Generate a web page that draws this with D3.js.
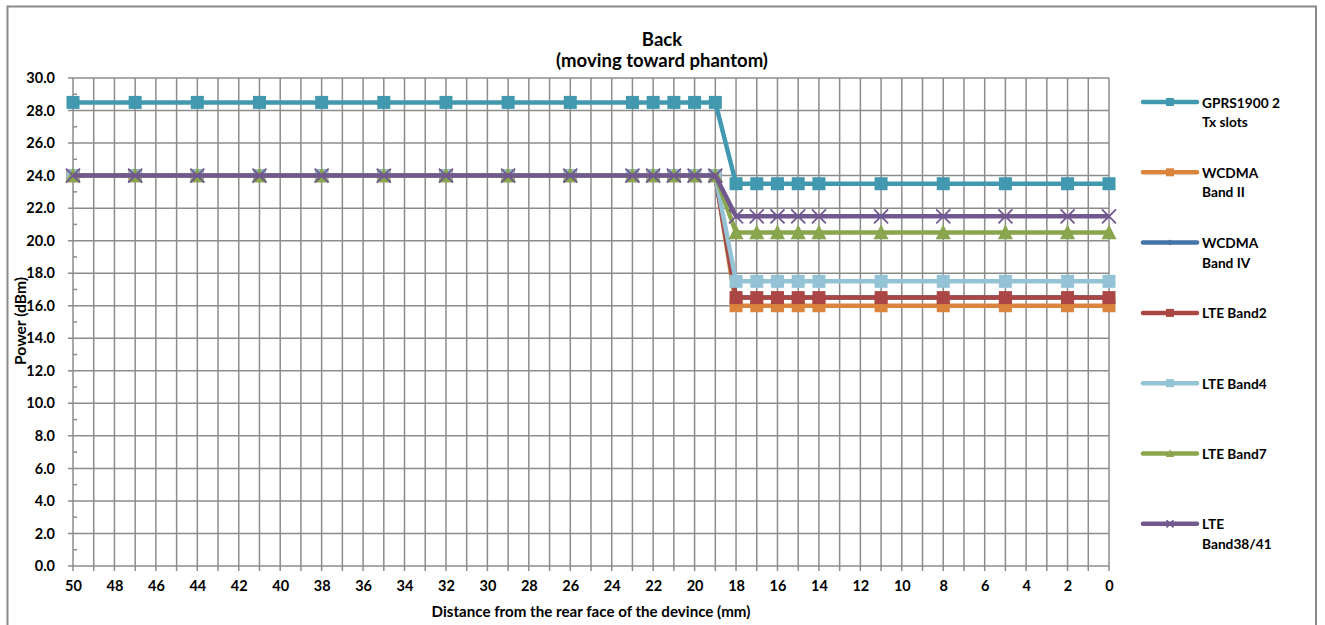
<!DOCTYPE html>
<html>
<head>
<meta charset="utf-8">
<script src="https://cdn.jsdelivr.net/npm/d3@7"></script>
<style>
  html, body { margin: 0; padding: 0; background: #fff; }
  svg text { font-family: Lato, "Open Sans", sans-serif; font-weight: bold; fill: #000; }
</style>
</head>
<body>
<svg id="chart" width="1325" height="625"></svg>
<script>
// ---- data ----
const distances = [50, 47, 44, 41, 38, 35, 32, 29, 26, 23, 22, 21, 20, 19, 18, 17, 16, 15, 14, 11, 8, 5, 2, 0];
const seriesNames = ["GPRS1900 2 Tx slots", "WCDMA Band II", "WCDMA Band IV", "LTE Band2", "LTE Band4", "LTE Band7", "LTE Band38/41"];
const legendLines = [["GPRS1900 2", "Tx slots"], ["WCDMA", "Band II"], ["WCDMA", "Band IV"], ["LTE Band2"], ["LTE Band4"], ["LTE Band7"], ["LTE", "Band38/41"]];
const gprs1900   = [28.5,28.5,28.5,28.5,28.5,28.5,28.5,28.5,28.5,28.5,28.5,28.5,28.5,28.5,23.5,23.5,23.5,23.5,23.5,23.5,23.5,23.5,23.5,23.5];
const wcdmaBand2 = [24,24,24,24,24,24,24,24,24,24,24,24,24,24,16,16,16,16,16,16,16,16,16,16];
const wcdmaBand4 = [24,24,24,24,24,24,24,24,24,24,24,24,24,24,16.5,16.5,16.5,16.5,16.5,16.5,16.5,16.5,16.5,16.5];
const lteBand2   = [24,24,24,24,24,24,24,24,24,24,24,24,24,24,16.5,16.5,16.5,16.5,16.5,16.5,16.5,16.5,16.5,16.5];
const lteBand4   = [24,24,24,24,24,24,24,24,24,24,24,24,24,24,17.5,17.5,17.5,17.5,17.5,17.5,17.5,17.5,17.5,17.5];
const lteBand7   = [24,24,24,24,24,24,24,24,24,24,24,24,24,24,20.5,20.5,20.5,20.5,20.5,20.5,20.5,20.5,20.5,20.5];
const lteBand3841= [24,24,24,24,24,24,24,24,24,24,24,24,24,24,21.5,21.5,21.5,21.5,21.5,21.5,21.5,21.5,21.5,21.5];
const xTickLabels = [50,48,46,44,42,40,38,36,34,32,30,28,26,24,22,20,18,16,14,12,10,8,6,4,2,0];
const yTickLabels = [0,2,4,6,8,10,12,14,16,18,20,22,24,26,28,30];
const titleLines = ["Back", "(moving toward phantom)"];
const xTitle = "Distance from the rear face of the devince (mm)";
const yTitle = "Power (dBm)";

// ---- styles ----
const colors = ["#4198AF", "#DB843D", "#4572A7", "#AA4643", "#93C3D5", "#89A54E", "#71588F"];
const markers = ["square", "square", "diamond", "square", "square", "triangle", "x"];
const allValues = [gprs1900, wcdmaBand2, wcdmaBand4, lteBand2, lteBand4, lteBand7, lteBand3841];

const svg = d3.select("#chart");
const gridColor = "#8c8c8c";

// fit a text element's font size so that its rendered width equals target
function fitSize(textSel, target, base) {
  textSel.attr("font-size", base);
  const w = textSel.node().getComputedTextLength();
  const s = base * target / w;
  textSel.attr("font-size", s);
  return s;
}

// outer border
svg.append("rect").attr("x", 7.5).attr("y", 6.5).attr("width", 1308.5).attr("height", 700)
  .attr("fill", "none").attr("stroke", "#8a8a8a").attr("stroke-width", 2);

const x = d3.scaleLinear().domain([50, 0]).range([73, 1109]);
const y = d3.scaleLinear().domain([0, 30]).range([566, 78]);

// vertical gridlines every unit (with outward tick)
const g = svg.append("g");
g.selectAll("line.vg").data(d3.range(0, 51)).join("line")
  .attr("x1", d => x(d)).attr("x2", d => x(d))
  .attr("y1", y(30)).attr("y2", y(0) + 5)
  .attr("stroke", gridColor).attr("stroke-width", 1.5);
// horizontal gridlines
g.selectAll("line.hg").data(yTickLabels).join("line")
  .attr("x1", x(50) - 5).attr("x2", x(0))
  .attr("y1", d => y(d)).attr("y2", d => y(d))
  .attr("stroke", gridColor).attr("stroke-width", 1.5);
// minor y ticks (inside)
g.selectAll("line.my").data(d3.range(1, 30, 2)).join("line")
  .attr("x1", x(50)).attr("x2", x(50) + 4)
  .attr("y1", d => y(d)).attr("y2", d => y(d))
  .attr("stroke", gridColor).attr("stroke-width", 1.5);

// axes labels via d3 axes
const yAxis = d3.axisLeft(y).tickValues(yTickLabels).tickFormat(d3.format(".1f")).tickSize(0).tickPadding(18);
const ya = svg.append("g").attr("transform", `translate(${x(50)},0)`).call(yAxis);
ya.select(".domain").remove();
ya.selectAll("text").attr("font-size", 14.5).attr("font-family", "Lato").attr("font-weight", "bold");

const xAxis = d3.axisBottom(x).tickValues(xTickLabels).tickFormat(d3.format("d")).tickSize(0).tickPadding(15);
const xa = svg.append("g").attr("transform", `translate(0,${y(0)})`).call(xAxis);
xa.select(".domain").remove();
xa.selectAll("text").attr("font-size", 14.5).attr("font-family", "Lato").attr("font-weight", "bold");

// titles
const t2 = svg.append("text").attr("x", 662).attr("y", 67).attr("text-anchor", "middle").text(titleLines[1]);
const ts = fitSize(t2, 212, 15);
svg.append("text").attr("x", 662).attr("y", 46).attr("text-anchor", "middle").attr("font-size", ts).text(titleLines[0]);
const xt = svg.append("text").attr("x", 591).attr("y", 617).attr("text-anchor", "middle").text(xTitle);
fitSize(xt, 319, 12.5);
const yt = svg.append("text").attr("text-anchor", "middle").text(yTitle);
const ys = fitSize(yt, 88, 12.5);
yt.attr("transform", `translate(${20.5 + ys * 0.36},321) rotate(-90)`);

// marker drawing
function drawMarker(sel, type, color, s) {
  if (type === "square") {
    sel.append("rect").attr("x", -s/2).attr("y", -s/2).attr("width", s).attr("height", s).attr("fill", color);
  } else if (type === "diamond") {
    sel.append("path").attr("d", `M0,${-s/2}L${s/2},0L0,${s/2}L${-s/2},0Z`).attr("fill", color);
  } else if (type === "triangle") {
    const h = s * 0.9;
    sel.append("path").attr("d", `M0,${-h*0.6}L${s/2},${h*0.5}L${-s/2},${h*0.5}Z`).attr("fill", color);
  } else if (type === "x") {
    sel.append("path").attr("d", `M${-s/2},${-s/2}L${s/2},${s/2}M${s/2},${-s/2}L${-s/2},${s/2}`)
      .attr("stroke", color).attr("stroke-width", 1.8).attr("fill", "none");
  }
}
const markerSize = {square: 13, diamond: 7, triangle: 15, x: 14};

const line = d3.line().x(d => x(d.d)).y(d => y(d.v));
seriesNames.forEach((name, i) => {
  const pts = distances.map((d, j) => ({d, v: allValues[i][j]}));
  const sg = svg.append("g");
  sg.append("path").datum(pts).attr("d", line).attr("fill", "none")
    .attr("stroke", colors[i]).attr("stroke-width", 4.5).attr("stroke-linejoin", "round");
  sg.selectAll("g.m").data(pts).join("g").attr("transform", d => `translate(${x(d.d)},${y(d.v)})`)
    .each(function() { drawMarker(d3.select(this), markers[i], colors[i], markerSize[markers[i]]); });
});

// legend
const legendX0 = 1143, legendX1 = 1197, legendY0 = 102, legendStep = 70.3;
// determine legend font size from the first label
const probe = svg.append("text").text(legendLines[0][0]);
const legendSize = fitSize(probe, 78, 13);
probe.remove();
seriesNames.forEach((name, i) => {
  const ly = legendY0 + i * legendStep;
  const lg = svg.append("g");
  lg.append("line").attr("x1", legendX0).attr("x2", legendX1).attr("y1", ly).attr("y2", ly)
    .attr("stroke", colors[i]).attr("stroke-width", 4.5).attr("stroke-linecap", "round");
  const mg = lg.append("g").attr("transform", `translate(${(legendX0 + legendX1)/2},${ly})`);
  const ms = {square: 8, diamond: 6, triangle: 8, x: 7}[markers[i]];
  drawMarker(mg, markers[i], colors[i], ms);
  legendLines[i].forEach((t, k) => {
    lg.append("text").attr("x", 1202).attr("y", ly + 5.5 + k * 19.5).attr("font-size", legendSize).text(t);
  });
});
</script>
</body>
</html>
